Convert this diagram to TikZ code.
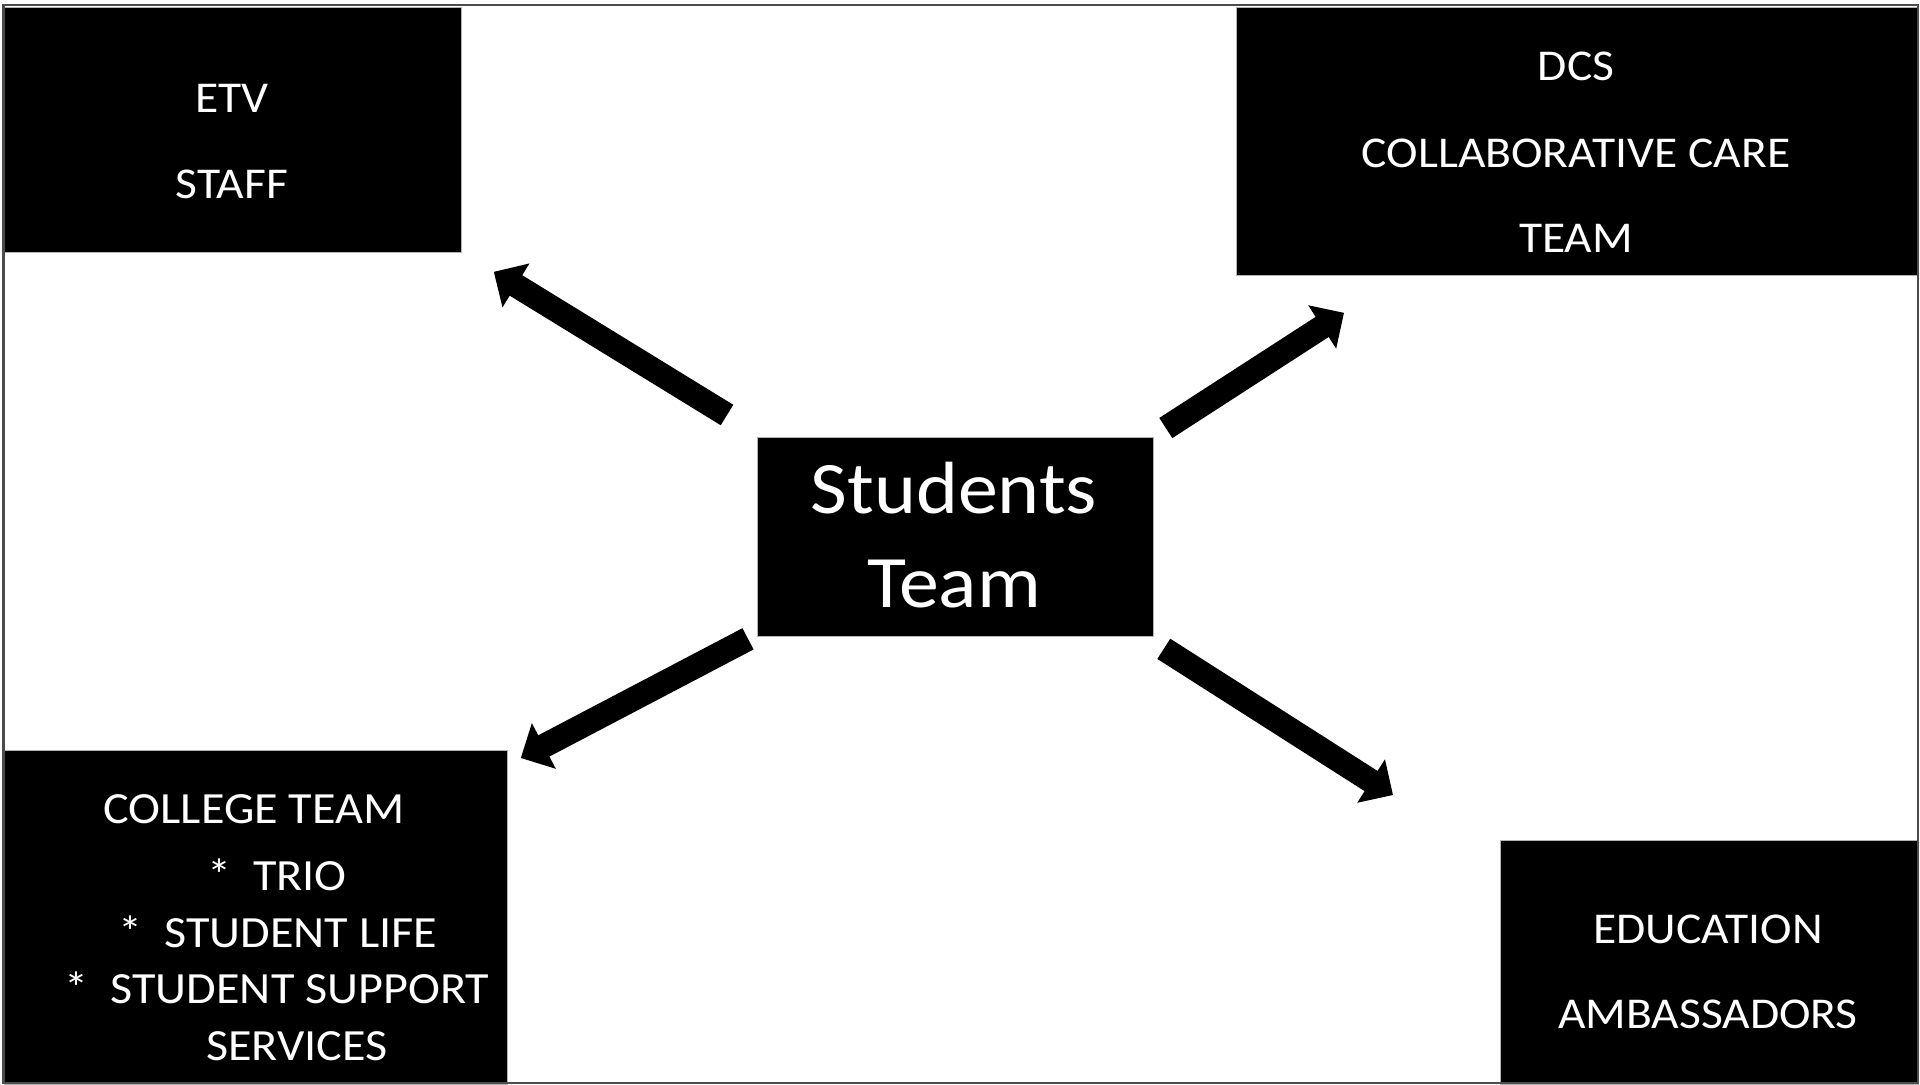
\documentclass[tikz,border=0pt]{standalone}
\usepackage{fontspec}
\setmainfont{Carlito}[FakeStretch=1.08]
\usetikzlibrary{arrows.meta, calc}

\begin{document}
\begin{tikzpicture}[x=0.5pt, y=-0.5pt,
	box/.style={fill=black, draw=gray!60, line width=0.4pt, inner sep=0pt, anchor=north west},
	txt/.style={text=white, anchor=base, inner sep=0pt, font=\fontsize{22}{26}\selectfont},
	bigtxt/.style={text=white, anchor=base, inner sep=0pt, font=\fontsize{37}{44}\selectfont},
	bigarrow/.style={line width=12pt, -{Triangle[width=25pt, length=13pt]}}]
	\useasboundingbox (0,0) rectangle (1920,1084);
	\fill [white] (0,0) rectangle (1920,1084);
	\node [box, minimum width=228.5pt, minimum height=122.5pt] (etv) at (4,7) {};
	\node [box, minimum width=341pt, minimum height=134pt] (dcs) at (1236,7) {};
	\node [box, minimum width=251.5pt, minimum height=167pt] (college) at (4,750) {};
	\node [box, minimum width=209pt, minimum height=122pt] (edu) at (1500,840) {};
	\node [box, minimum width=198pt, minimum height=99.5pt] (team) at (757,437) {};
	\node [txt] (etv1) at (232,112) {ETV};
	\node [txt] (etv2) at (232,198) {STAFF};
	\node [txt] (dcs1) at (1576,80) {DCS};
	\node [txt] (dcs2) at (1576,167) {COLLABORATIVE CARE};
	\node [txt] (dcs3) at (1576,252) {TEAM};
	\node [txt, font=\fontsize{22.3}{26}\selectfont] (college1) at (254,823) {COLLEGE TEAM};
	\node [txt, font=\fontsize{22.3}{26}\selectfont] (college2) at (277,890) {*\ \ TRIO};
	\node [txt, font=\fontsize{22.3}{26}\selectfont] (college3) at (278,947) {*\ \ STUDENT LIFE};
	\node [txt, font=\fontsize{22.3}{26}\selectfont] (college4) at (277,1003) {*\ \ STUDENT SUPPORT};
	\node [txt, font=\fontsize{22.3}{26}\selectfont] (college5) at (297,1060) {SERVICES};
	\node [txt] (edu1) at (1708,943) {EDUCATION};
	\node [txt] (edu2) at (1708,1028) {AMBASSADORS};
	\node [bigtxt] (team1) at (954,513) {Students};
	\node [bigtxt] (team2) at (954,607) {Team};
	\draw [bigarrow] ($(team.north west)+(-30,-22)$) -- ($(etv.south east)+(32,19)$);
	\draw [bigarrow] ($(team.north east)+(12,-9)$) -- ($(dcs.south west)+(108,37)$);
	\draw [bigarrow] ($(team.south west)+(-9,2)$) -- ($(college.north east)+(13,8)$);
	\draw [bigarrow] ($(team.south east)+(10,12)$) -- ($(edu.north west)+(-107,-45)$);
	\draw [gray!60!black, line width=1.2pt] (3.5,5) rectangle (1918,1083);
\end{tikzpicture}
\end{document}
